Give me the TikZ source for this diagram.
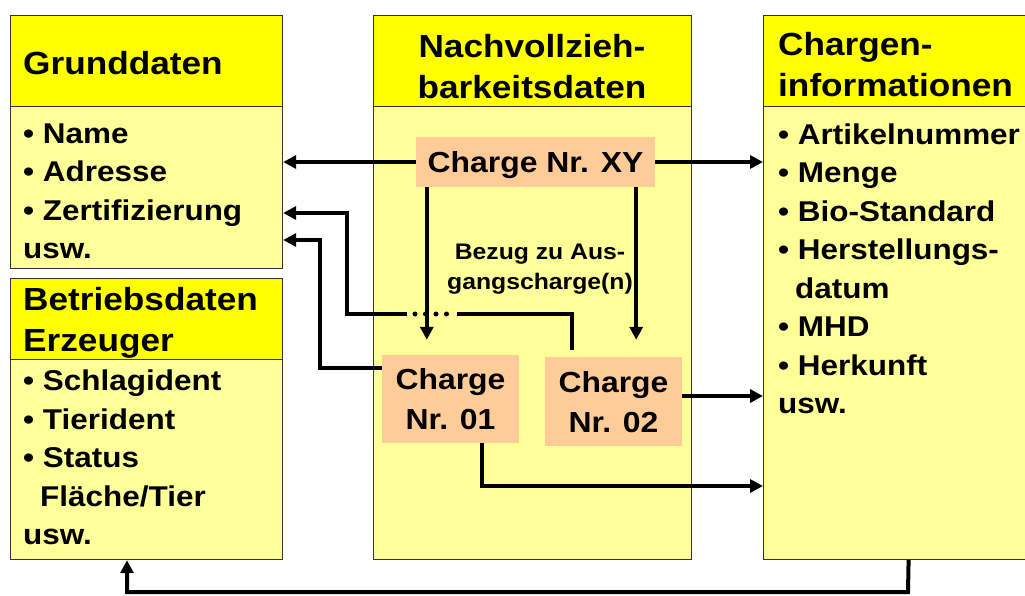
\documentclass[tikz,border=0pt]{standalone}
\usepackage{fontspec}
\setmainfont{Liberation Sans}[FakeStretch=1.1]
\usepackage{tikz}
\usetikzlibrary{arrows.meta}
\definecolor{gelb}{HTML}{FFFF00}
\definecolor{hellgelb}{HTML}{FFFF99}
\definecolor{pfirsich}{HTML}{FFCC99}
\definecolor{rahmen}{HTML}{333333}
\newcommand{\feld}[5] {\node at (#1) (#2) [#3, minimum width=#4pt, minimum height=#5pt] {};}
\newcommand{\chargefeld}[5] {\node at (#1) (#2) [charge, minimum width=#3pt, minimum height=#4pt] {#5};}
\newcommand{\beschriftung}[4] {\node at (#1) (#2) [#3] {#4};}
\tikzset{
  kopf/.style={rectangle, draw=rahmen, line width=1.2pt, fill=gelb, anchor=north west, inner sep=0pt},
  rumpf/.style={kopf, fill=hellgelb},
  charge/.style={rectangle, fill=pfirsich, inner sep=0pt, align=center, text depth=0pt, font=\fontsize{29pt}{40pt}\selectfont\bfseries},
  titel/.style={inner sep=0pt, anchor=north west, align=left, font=\fontsize{32pt}{41pt}\selectfont\bfseries},
  liste/.style={inner sep=0pt, anchor=north west, align=left, font=\fontsize{28.6pt}{38.5pt}\selectfont\bfseries},
  pfeil/.style={line width=4pt, -{Triangle[length=13pt,width=13pt]}},
  linie/.style={line width=4pt},
  punkte/.style={line width=5pt, line cap=round, dash pattern=on 0pt off 10.5pt}
}

\begin{document}
\begin{tikzpicture}[x=1pt, y=-1pt]
\path[use as bounding box, fill=white] (0,0) rectangle (1025,595);
% Spalten
\feld{10,15}{gdkopf}{kopf}{272}{91}
\feld{10,106}{gdrumpf}{rumpf}{272}{162}
\feld{10,278}{bskopf}{kopf}{272}{81}
\feld{10,359}{bsrumpf}{rumpf}{272}{200}
\feld{373,15}{nvkopf}{kopf}{318}{91}
\feld{373,106}{nvrumpf}{rumpf}{318}{453}
\feld{763,15}{cikopf}{kopf}{290}{91}
\feld{763,106}{cirumpf}{rumpf}{290}{453}
% Texte
\beschriftung{23,50.7}{gdtitel}{titel}{Grunddaten}
\beschriftung{532,33.7}{nvtitel}{titel, anchor=north, align=center}{Nachvollzieh-\\barkeitsdaten}
\beschriftung{778,31.7}{cititel}{titel}{Chargen-\\informationen}
\beschriftung{23,286.7}{bstitel}{titel}{Betriebsdaten\\Erzeuger}
\beschriftung{23,123.5}{gdliste}{liste}{• Name\\• Adresse\\• Zertifizierung\\usw.}
\beschriftung{23,370}{bsliste}{liste}{• Schlagident\\• Tierident\\• Status\\\hspace*{17pt}Fläche/Tier\\usw.}
\beschriftung{778,123.5}{ciliste}{liste}{• Artikelnummer\\• Menge\\• Bio-Standard\\• Herstellungs-\\\hspace*{17pt}datum\\• MHD\\• Herkunft\\usw.}
\beschriftung{540,243.9}{bezug}{inner sep=0pt, anchor=north, align=center, font=\fontsize{22.5pt}{30pt}\selectfont\bfseries}{Bezug zu Aus-\\gangscharge(n)}
% Chargen
\chargefeld{535.5,162}{xy}{239}{50}{Charge Nr. XY}
\chargefeld{450.5,399}{c01}{137}{88}{Charge\\Nr. 01}
\chargefeld{613.5,401.5}{c02}{137}{89}{Charge\\Nr. 02}
% Hilfspunkte
\coordinate (xyl) at ([xshift=11pt]xy.south west);
\coordinate (xyr) at ([xshift=-19pt]xy.south east);
\coordinate (c02o) at ([xshift=-41.5pt, yshift=7pt]c02.north);
\coordinate (c02r) at ([yshift=5.5pt]c02.east);
\coordinate (c01l) at ([yshift=31pt]c01.west);
\coordinate (c01u) at ([xshift=31.5pt]c01.south);
\coordinate (lueckeR) at (457,314);
\coordinate (lueckeL) at (407,314);
\coordinate (knick1) at (347,213);
\coordinate (knick2) at (320,240);
\coordinate (knick3) at (482,486);
\coordinate (knick4) at (908,592);
\coordinate (knick5) at (127,592);
% Verbindungen
\draw [pfeil] (xy.west) -- (xy.west -| gdrumpf.east);
\draw [pfeil] (xy.east) -- (xy.east -| cirumpf.west);
\draw [pfeil, shorten >=15pt] (xyl) -- (xyl |- c01.north);
\draw [pfeil, shorten >=17pt] (xyr) -- (xyr |- c02.north);
\draw [linie] (c02o) |- (lueckeR);
\draw [punkte] (415,314) -- (447,314);
\draw [pfeil] (lueckeL) -| (knick1) -- (knick1 -| gdrumpf.east);
\draw [pfeil] (c01l) -| (knick2) -- (knick2 -| gdrumpf.east);
\draw [pfeil] (c02r) -- (c02r -| cirumpf.west);
\draw [pfeil] (c01u) -- (knick3) -- (knick3 -| cirumpf.west);
\draw [pfeil] (cirumpf.south) -- (knick4) -- (knick5) -- (knick5 |- bsrumpf.south);
\end{tikzpicture}
\end{document}
